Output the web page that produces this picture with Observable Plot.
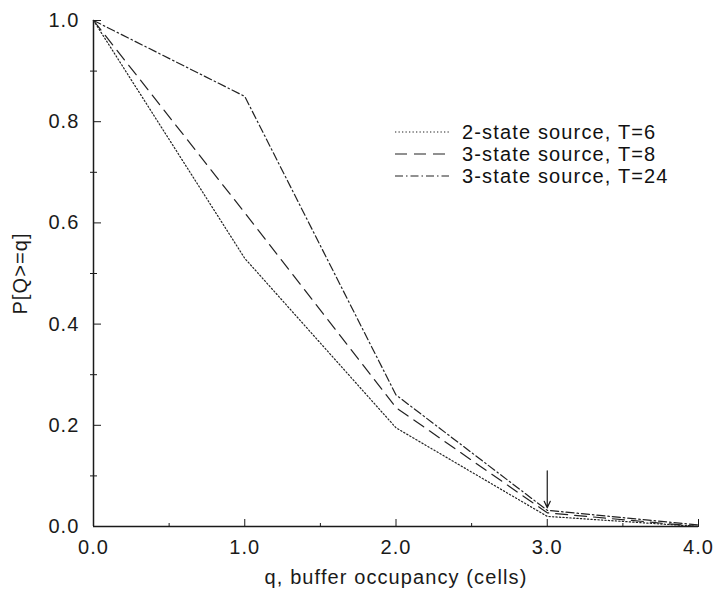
<!DOCTYPE html>
<html>
<head>
<meta charset="utf-8">
<script src="https://cdn.jsdelivr.net/npm/d3@7"></script>
<script src="https://cdn.jsdelivr.net/npm/@observablehq/plot@0.6"></script>
<style>
  body { margin: 0; background: #fff; }
  #wrap { position: relative; width: 716px; height: 593px; }
  #legend { position: absolute; left: 0; top: 0; pointer-events: none; }
  #legend text { font-family: "Liberation Sans", Arial, sans-serif; font-size: 20px; letter-spacing: 1.15px; fill: #111; }
</style>
</head>
<body>
<div id="wrap"></div>
<script>
// ---- data ----
const q = [0, 1, 2, 3, 4];
const twoStateT6 = [1.0, 0.53, 0.195, 0.02, 0.0];
const threeStateT8 = [1.0, 0.62, 0.235, 0.027, 0.0];
const threeStateT24 = [1.0, 0.85, 0.26, 0.032, 0.003];
const seriesNames = ["2-state source, T=6", "3-state source, T=8", "3-state source, T=24"];
const yMajorTicks = [0, 0.2, 0.4, 0.6, 0.8, 1.0];
const yMinorTicks = [0.1, 0.3, 0.5, 0.7, 0.9];
const xMajorTicks = [0, 1, 2, 3, 4];
const xMinorTicks = [0.5, 1.5, 2.5, 3.5];
const arrowX = [3];
const arrowFrom = [0.11];
const arrowTo = [0.037];
const xLabel = "q, buffer occupancy (cells)";
const yLabel = "P[Q>=q]";

// ---- build table ----
const seriesValues = [twoStateT6, threeStateT8, threeStateT24];
const rows = seriesNames.flatMap((name, i) => q.map((qq, j) => ({series: name, q: qq, p: seriesValues[i][j]})));
const arrows = arrowX.map((x, i) => ({x, y1: arrowFrom[i], y2: arrowTo[i]}));

const dashes = ["1.3,2.2", "12,7", "8,3,1.5,3"];
const ink = "#1a1a1a";
const fmt = d => d.toFixed(1);

const chart = Plot.plot({
  width: 716,
  height: 593,
  marginLeft: 93,
  marginRight: 18,
  marginTop: 20,
  marginBottom: 67,
  style: {fontFamily: '"Liberation Sans", Arial, sans-serif', fontSize: "20px", color: ink, background: "white", letterSpacing: "1.1px"},
  x: {domain: [0, 4]},
  y: {domain: [0, 1]},
  marks: [
    Plot.axisY(yMajorTicks, {tickSize: 0, tickPadding: 14, tickFormat: fmt, label: yLabel, labelAnchor: "center", labelOffset: 81, labelArrow: "none"}),
    Plot.axisY(yMajorTicks, {anchor: "right", frameAnchor: "left", tickSize: 7, text: null, label: null}),
    Plot.axisY(yMinorTicks, {anchor: "left", tickSize: 3, text: null, label: null}),
    Plot.axisY(yMinorTicks, {anchor: "right", frameAnchor: "left", tickSize: 3, text: null, label: null}),
    Plot.axisX(xMajorTicks, {tickSize: 0, tickPadding: 13, tickFormat: fmt, label: xLabel, labelAnchor: "center", labelOffset: 57, labelArrow: "none"}),
    Plot.axisX(xMajorTicks, {anchor: "top", frameAnchor: "bottom", tickSize: 8, text: null, label: null}),
    Plot.axisX(xMinorTicks, {anchor: "top", frameAnchor: "bottom", tickSize: 4, text: null, label: null}),
    Plot.ruleX([0], {stroke: ink, strokeWidth: 1.5}),
    Plot.ruleY([0], {stroke: ink, strokeWidth: 1.5}),
    ...seriesNames.map((name, i) => Plot.line(rows.filter(r => r.series === name), {
      x: "q", y: "p", stroke: "#222", strokeWidth: 1.2, strokeDasharray: dashes[i]
    })),
    Plot.arrow(arrows, {x: "x", y1: "y1", y2: "y2", stroke: ink, strokeWidth: 1.2, headLength: 9, headAngle: 50})
  ]
});

const wrap = document.getElementById("wrap");
wrap.appendChild(chart);

// ---- legend overlay ----
const ns = "http://www.w3.org/2000/svg";
const lg = document.createElementNS(ns, "svg");
lg.setAttribute("id", "legend");
lg.setAttribute("width", 716);
lg.setAttribute("height", 593);
const rowY = [132, 154, 176];
seriesNames.forEach((name, i) => {
  const line = document.createElementNS(ns, "line");
  line.setAttribute("x1", 395); line.setAttribute("x2", 449);
  line.setAttribute("y1", rowY[i]); line.setAttribute("y2", rowY[i]);
  line.setAttribute("stroke", "#222"); line.setAttribute("stroke-width", 1.2);
  line.setAttribute("stroke-dasharray", dashes[i]);
  lg.appendChild(line);
  const t = document.createElementNS(ns, "text");
  t.setAttribute("x", 462); t.setAttribute("y", rowY[i]);
  t.setAttribute("dy", "0.35em");
  t.textContent = name;
  lg.appendChild(t);
});
wrap.appendChild(lg);
</script>
</body>
</html>
